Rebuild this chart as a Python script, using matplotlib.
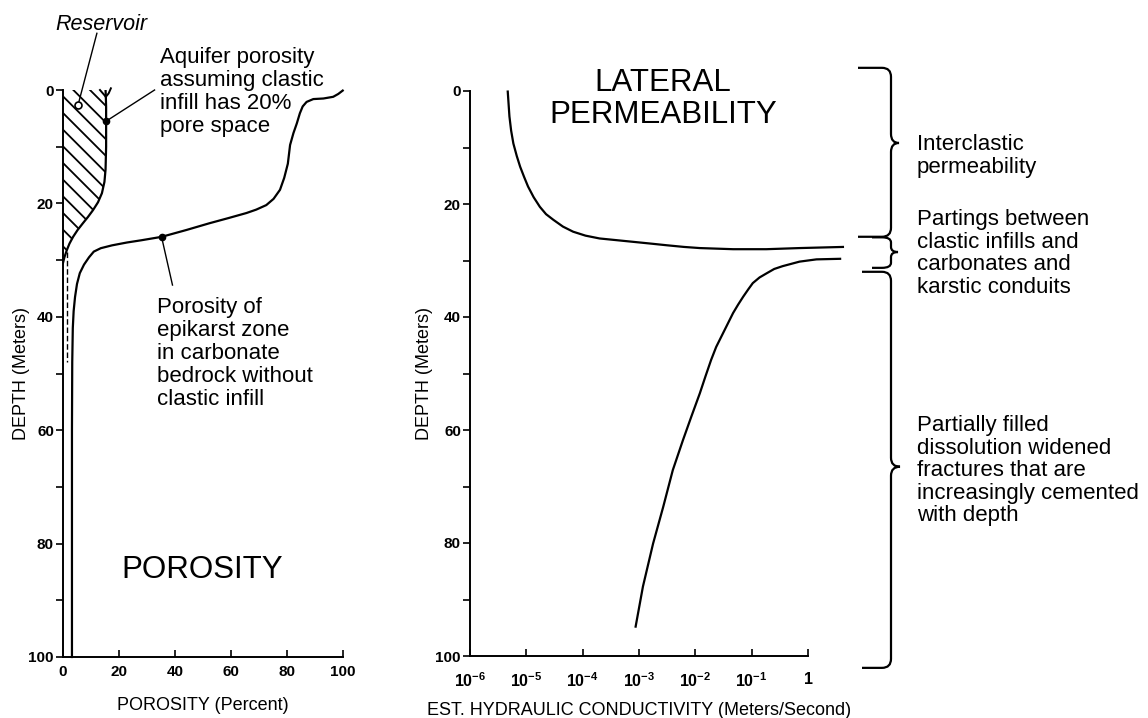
import numpy as np
import matplotlib
matplotlib.use('Agg')
import matplotlib.pyplot as plt
from matplotlib.path import Path
from matplotlib.patches import PathPatch
from matplotlib.transforms import blended_transform_factory
from matplotlib.ticker import MultipleLocator, NullLocator

plt.rcParams['font.family'] = ['Liberation Sans', 'DejaVu Sans']
plt.rcParams['mathtext.fontset'] = 'custom'
plt.rcParams['mathtext.rm'] = 'Liberation Sans'
plt.rcParams['mathtext.bf'] = 'Liberation Sans:bold'
plt.rcParams['hatch.linewidth'] = 1.3

# --- porosity panel data (porosity %, depth m) ---
epikarst_por = [99.9, 98.3, 96.5, 93.0, 89.4, 87.0, 85.6, 84.6, 83.5, 82.3, 81.1, 80.3,
                79.0, 77.5, 75.2, 72.6, 69.0, 65.5, 59.0, 52.3, 44.0, 35.2, 28.0, 22.8,
                17.5, 13.5, 11.0, 9.3, 7.5, 6.0, 5.0, 4.3, 3.8, 3.5, 3.3, 3.2, 3.2]
epikarst_depth = [0.1, 0.7, 1.2, 1.5, 1.6, 2.1, 2.9, 4.1, 5.9, 7.6, 9.7, 13.0,
                  15.5, 17.6, 19.2, 20.3, 21.1, 21.7, 22.6, 23.5, 24.7, 25.9, 26.5, 26.9,
                  27.4, 27.9, 28.5, 29.5, 30.8, 32.3, 34.2, 36.5, 39.0, 42.0, 48.0, 60.0, 100.0]

aquifer_por = [15.2, 15.3, 15.4, 15.4, 15.4, 15.2, 14.8, 13.9, 12.5, 10.7, 8.9, 7.1,
               5.2, 3.6, 2.3, 1.4, 0.5, 0.0]
aquifer_depth = [0.0, 1.2, 3.0, 5.5, 10.0, 14.0, 16.2, 18.2, 19.8, 21.2, 22.4, 23.5,
                 24.7, 25.9, 27.1, 28.2, 29.5, 30.5]

fork_left_por, fork_left_depth = [15.3, 13.2], [1.2, 0.0]
fork_right_por, fork_right_depth = [15.3, 16.3, 17.1], [1.2, 0.6, -0.3]
inner_dash_por, inner_dash_depth = [1.3, 1.3], [28.5, 48.0]

reservoir_pt = (5.4, 2.6)
reservoir_lead = (12.1, -10.0)
aquifer_pt = (15.4, 5.5)
aquifer_lead = (32.7, 0.0)
epikarst_pt = (35.2, 25.9)
epikarst_lead = (39.1, 34.4)

# --- lateral permeability panel data (log10 K, depth m) ---
upper_logk = [-5.33, -5.30, -5.27, -5.23, -5.17, -5.11, -5.04, -4.97, -4.87, -4.76,
              -4.65, -4.52, -4.35, -4.17, -3.95, -3.70, -3.40, -3.10, -2.80, -2.51,
              -2.20, -1.92, -1.33, -0.74, -0.15, 0.62]
upper_depth = [0.1, 4.5, 7.0, 9.3, 11.5, 13.4, 15.2, 16.9, 18.8, 20.5,
               21.8, 22.8, 24.0, 24.9, 25.6, 26.1, 26.4, 26.7, 27.0, 27.3,
               27.6, 27.8, 28.0, 28.0, 27.8, 27.6]

lower_logk = [0.57, 0.15, -0.15, -0.45, -0.60, -0.74, -0.86, -0.98, -1.06, -1.15,
              -1.24, -1.33, -1.48, -1.63, -1.72, -1.82, -1.92, -2.07, -2.22, -2.40,
              -2.57, -2.75, -2.93, -3.06]
lower_depth = [29.7, 29.8, 30.2, 31.0, 31.5, 32.3, 33.0, 34.0, 35.1, 36.4,
               37.8, 39.3, 42.3, 45.3, 47.6, 50.5, 53.5, 57.6, 61.8, 67.1,
               73.6, 80.1, 87.7, 94.8]

k_ticks = [1e-6, 1e-5, 1e-4, 1e-3, 1e-2, 1e-1, 1]
k_labels = [r'$\mathbf{10^{-6}}$', r'$\mathbf{10^{-5}}$', r'$\mathbf{10^{-4}}$',
            r'$\mathbf{10^{-3}}$', r'$\mathbf{10^{-2}}$', r'$\mathbf{10^{-1}}$',
            r'$\mathbf{1}$']

# zones (depth top, tip, bottom) and texts
zones = [(-4.1, 9.2, 25.8), (25.9, 28.5, 31.3), (32.0, 66.5, 102.1)]
zone_texts = ['Interclastic\npermeability',
              'Partings between\nclastic infills and\ncarbonates and\nkarstic conduits',
              'Partially filled\ndissolution widened\nfractures that are\n'
              'increasingly cemented\nwith depth']

W, H = 1148, 718
fig = plt.figure(figsize=(W / 100, H / 100), dpi=100)


def fx(x):
    return x / W


def fy(y):
    return 1 - y / H


ax1 = fig.add_axes([fx(63), fy(657), 280 / W, 567 / H])
ax2 = fig.add_axes([fx(470), fy(656), 338 / W, 565 / H])

for ax in (ax1, ax2):
    ax.spines['top'].set_visible(False)
    ax.spines['right'].set_visible(False)
    ax.spines['left'].set_linewidth(1.4)
    ax.spines['bottom'].set_linewidth(1.4)
    ax.set_ylim(100, 0)
    ax.yaxis.set_major_locator(MultipleLocator(20))
    ax.yaxis.set_minor_locator(MultipleLocator(10))
    ax.tick_params(axis='y', which='both', direction='out', length=5, width=1.2, pad=1.5)
    ax.tick_params(axis='x', which='both', direction='in', length=5, width=1.2, pad=6)
    ax.tick_params(labelsize=11)

# porosity panel
ax1.set_xlim(0, 100)
ax1.xaxis.set_major_locator(MultipleLocator(20))
for lab in ax1.get_xticklabels() + ax1.get_yticklabels():
    lab.set_fontweight('bold')
ax1.fill_betweenx(aquifer_depth, 0, aquifer_por, facecolor='none', edgecolor='black',
                  hatch='\\\\', linewidth=0)
ax1.plot(aquifer_por, aquifer_depth, color='black', lw=1.6)
ax1.plot(fork_left_por, fork_left_depth, color='black', lw=1.4, clip_on=False)
ax1.plot(fork_right_por, fork_right_depth, color='black', lw=1.4, clip_on=False)
ax1.plot(inner_dash_por, inner_dash_depth, color='black', lw=1.0, ls=(0, (4, 2)))
ax1.plot(epikarst_por, epikarst_depth, color='black', lw=1.6, clip_on=False)

ax1.plot([reservoir_pt[0], reservoir_lead[0]], [reservoir_pt[1], reservoir_lead[1]],
         color='black', lw=1.0, clip_on=False)
ax1.plot(*reservoir_pt, 'o', ms=5, mfc='white', mec='black', mew=1.2, clip_on=False)
ax1.plot([aquifer_pt[0], aquifer_lead[0]], [aquifer_pt[1], aquifer_lead[1]],
         color='black', lw=1.0, clip_on=False)
ax1.plot(*aquifer_pt, 'o', ms=4.5, color='black', clip_on=False)
ax1.plot([epikarst_pt[0], epikarst_lead[0]], [epikarst_pt[1], epikarst_lead[1]],
         color='black', lw=1.0)
ax1.plot(*epikarst_pt, 'o', ms=4.5, color='black')
ax1.set_xlabel('POROSITY (Percent)', fontsize=13, labelpad=13)
ax1.set_ylabel('DEPTH (Meters)', fontsize=13, labelpad=-1)
ax1.text(21, 84.7, 'POROSITY', fontsize=22.5, va='center', ha='left')

# permeability panel
ax2.set_xscale('log')
ax2.set_xlim(1e-6, 1)
ax2.set_xticks(k_ticks, k_labels)
ax2.xaxis.set_minor_locator(NullLocator())
ax2.tick_params(axis='x', labelsize=11.5, pad=11)
for lab in ax2.get_yticklabels():
    lab.set_fontweight('bold')
ax2.plot(10 ** np.array(upper_logk), upper_depth, color='black', lw=1.6, clip_on=False)
ax2.plot(10 ** np.array(lower_logk), lower_depth, color='black', lw=1.6, clip_on=False)
ax2.set_xlabel('EST. HYDRAULIC CONDUCTIVITY (Meters/Second)', fontsize=13, labelpad=9)
ax2.set_ylabel('DEPTH (Meters)', fontsize=13, labelpad=2)
fig.text(fx(663), fy(68), 'LATERAL\nPERMEABILITY', fontsize=22.5, ha='center', va='top',
         linespacing=1.08)

# labels and annotations
fig.text(fx(55), fy(14), 'Reservoir', fontsize=15.5, style='italic', va='top')
fig.text(fx(160), fy(47), 'Aquifer porosity\nassuming clastic\ninfill has 20%\npore space',
         fontsize=16, va='top', linespacing=1.13)
fig.text(fx(157), fy(297), 'Porosity of\nepikarst zone\nin carbonate\nbedrock without\nclastic infill',
         fontsize=16, va='top', linespacing=1.12)

# braces on the right
btrans = blended_transform_factory(fig.transFigure, ax2.transData)
brace_x = [(858, 891, 899, 1.6), (872, 891, 898, 0.9), (862, 891, 900, 1.6)]
text_tops = [134, 209, 415]
for (top, tip, bot), (x0, x1, x2, ry), txt, ty in zip(zones, brace_x, zone_texts, text_tops):
    rx = 9 / W
    a0, a1, a2 = fx(x0), fx(x1), fx(x2)
    verts = [(a0, top), (a1 - rx, top), (a1, top), (a1, top + ry),
             (a1, tip - ry), (a1, tip), (a2, tip), (a1, tip), (a1, tip + ry),
             (a1, bot - ry), (a1, bot), (a1 - rx, bot), (a0, bot)]
    codes = [Path.MOVETO, Path.LINETO, Path.CURVE3, Path.CURVE3,
             Path.LINETO, Path.CURVE3, Path.CURVE3, Path.CURVE3, Path.CURVE3,
             Path.LINETO, Path.CURVE3, Path.CURVE3, Path.LINETO]
    patch = PathPatch(Path(verts, codes), transform=btrans, facecolor='none',
                      edgecolor='black', lw=1.6, clip_on=False)
    fig.add_artist(patch)
    fig.text(fx(917), fy(ty), txt, fontsize=16, va='top', linespacing=1.1)

fig.savefig('out.png', dpi=100, facecolor='white')
